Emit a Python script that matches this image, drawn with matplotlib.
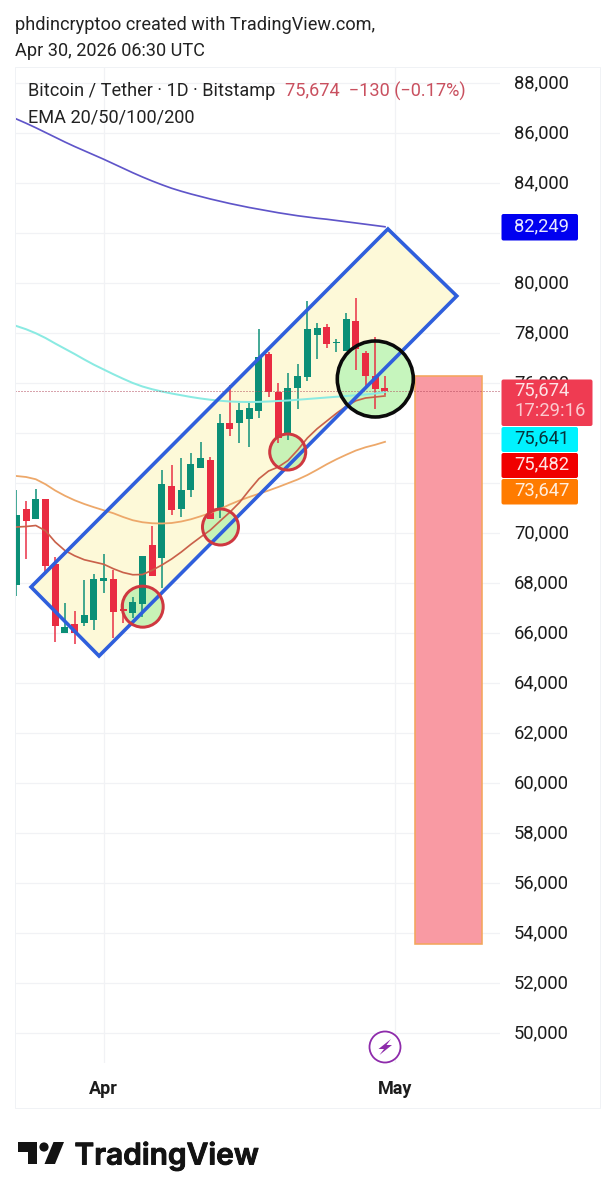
import numpy as np
import matplotlib
matplotlib.use("Agg")
import matplotlib.pyplot as plt
import matplotlib.patheffects as pe
from matplotlib.patches import Ellipse, Polygon, Rectangle, Circle, FancyBboxPatch
from matplotlib.transforms import ScaledTranslation

plt.rcParams['font.family'] = ['Roboto', 'DejaVu Sans']

# candles, days counted from Apr 1
days = list(range(-9, 30))
opens = [67933, 70947, 70547, 71373, 68773, 66013, 66373, 66387, 66520, 68093,
         68160, 66950, 66800, 67160, 69520, 68987, 71880, 70960, 71733, 72613,
         72920, 70920, 74387, 74413, 74560, 74893, 77173, 75640, 73960, 75800,
         76253, 77933, 78227, 77587, 77293, 78493, 77187, 76293, 75804]
highs = [71720, 71293, 71760, 71373, 69053, 67187, 66880, 68120, 68360, 69160,
         68520, 67300, 67453, 69093, 70280, 72520, 72720, 73013, 73187, 73653,
         73053, 74760, 75920, 75213, 75293, 78147, 77253, 76013, 76413, 76760,
         79293, 78413, 78360, 77747, 78813, 79387, 77293, 77827, 76293]
lows = [67493, 68947, 70547, 68387, 65653, 66013, 65547, 66280, 66120, 67587,
        65813, 66413, 66587, 66653, 68293, 67813, 70733, 70653, 71427, 72613,
        70547, 70587, 73880, 73587, 73453, 74613, 75427, 73587, 73720, 74947,
        76093, 76973, 77387, 77253, 77293, 76520, 75880, 74947, 75520]
closes = [70733, 70493, 71347, 68693, 66280, 66253, 65987, 66720, 68173, 68187,
          66840, 66893, 67227, 69093, 68293, 71960, 70920, 71720, 72760, 73013,
          70547, 74387, 74147, 74920, 75013, 77027, 75640, 73787, 75787, 76280,
          78147, 78213, 77573, 77613, 78573, 77347, 76280, 75747, 75674]

ema20 = [70240, 70260, 70300, 70090, 69640, 69300, 69090, 68930, 68840, 68750,
         68570, 68420, 68330, 68340, 68510, 68720, 68960, 69240, 69550, 69840,
         70120, 70480, 70830, 71220, 71710, 72170, 72480, 72640, 72900, 73320,
         73800, 74170, 74480, 74790, 75070, 75290, 75400, 75440, 75482]
ema50 = [72280, 72240, 72150, 71950, 71700, 71490, 71310, 71160, 71030, 70910,
         70790, 70640, 70510, 70430, 70390, 70380, 70400, 70460, 70550, 70670,
         70800, 70960, 71140, 71300, 71440, 71570, 71700, 71840, 71990, 72140,
         72320, 72530, 72750, 72950, 73130, 73300, 73430, 73530, 73647]
ema100 = [78280, 78150, 77990, 77800, 77580, 77370, 77160, 76940, 76730, 76540,
          76350, 76170, 76000, 75860, 75750, 75660, 75580, 75510, 75440, 75380,
          75330, 75290, 75260, 75245, 75240, 75245, 75260, 75280, 75300, 75330,
          75360, 75390, 75420, 75450, 75480, 75510, 75540, 75580, 75641]
ema200 = [86560, 86390, 86210, 86020, 85830, 85640, 85460, 85290, 85120, 84950,
          84770, 84590, 84410, 84240, 84080, 83930, 83790, 83670, 83560, 83460,
          83360, 83270, 83180, 83100, 83020, 82950, 82880, 82810, 82750, 82690,
          82640, 82590, 82550, 82500, 82450, 82400, 82350, 82300, 82249]

price_ticks = list(range(50000, 90000, 2000))
hidden_ticks = [72000, 74000, 82000]  # sit fully behind the price boxes
month_days = [0, 30]
month_labels = ['Apr', 'May']

channel_days = [-7.49, -0.48, 36.4, 29.3]
channel_prices = [67840, 65080, 79480, 82160]
target_days = [32.1, 39.0]
target_prices = [53560, 76280]
red_circle_days = [4.02, 12.04, 18.97]
red_circle_prices = [67053, 70240, 73240]
red_circle_radii = [20.5, 18, 18]
black_circle = (28.0, 76160, 38)

last_labels = ['82,249', '75,641', '75,482', '73,647']
last_price = '75,674'
countdown = '17:29:16'

UP = '#0b8f77'
DOWN = '#e92c42'
PX_PER_DAY = 9.7
PX_PER_PRICE = 0.025
W, H = 616, 1200


def px(v):
    return v * 0.72


fig = plt.figure(figsize=(W / 100, H / 100), dpi=100, facecolor='white')
ax = fig.add_axes([15 / W, 1 - 1063 / H, 485 / W, 996 / H])
ax.set_xlim(-9.144, 40.856)
ax.set_ylim(48800, 88640)
for s in ax.spines.values():
    s.set_visible(False)
ax.yaxis.tick_right()
ax.set_yticks(price_ticks)
ax.set_yticklabels(['' if p in hidden_ticks else f'{p:,}' for p in price_ticks],
                   fontsize=13.2, color='#1c1c1c')
ax.set_xticks(month_days)
ax.set_xticklabels(month_labels, fontsize=13, fontweight='bold', color='#1c1c1c')
ax.tick_params(axis='y', length=0, pad=10)
ax.tick_params(axis='x', length=0, pad=12)
ax.grid(True, color='#f1f2f5', lw=0.9)
ax.set_axisbelow(True)
# labels sit about 2 px higher than the grid line centre
for lab in ax.get_yticklabels():
    lab.set_transform(lab.get_transform() + ScaledTranslation(0, 2 / 100, fig.dpi_scale_trans))

ax.add_patch(Polygon(np.column_stack([channel_days, channel_prices]), closed=True,
                     fc='#fdf9d8', ec='none', zorder=1))
for d, p, r in zip(red_circle_days, red_circle_prices, red_circle_radii):
    ax.add_patch(Ellipse((d, p), 2 * r / PX_PER_DAY, 2 * r / PX_PER_PRICE,
                         fc='#c8f2b6', ec='none', zorder=1.5))
ax.add_patch(Ellipse(black_circle[:2], 2 * black_circle[2] / PX_PER_DAY,
                     2 * black_circle[2] / PX_PER_PRICE,
                     fc='#c6f5bd', ec='none', zorder=1.5))
ax.add_patch(Rectangle((target_days[0], target_prices[0]), target_days[1] - target_days[0],
                       target_prices[1] - target_prices[0],
                       fc='#f99aa3', ec='#f3a65c', lw=px(1.6), zorder=1.5))

for d, o, h, l, c in zip(days, opens, highs, lows, closes):
    col = UP if c >= o else DOWN
    ax.plot([d, d], [l, h], color=col, lw=px(1.5), zorder=3, solid_capstyle='butt')
    ax.bar(d, max(abs(c - o), 60), bottom=min(o, c), width=7 / PX_PER_DAY, color=col, zorder=3.2)

ax.plot(days, ema200, color='#5f55c9', lw=px(1.7), zorder=4)
ax.plot(days, ema100, color='#8aeae2', lw=px(2), zorder=4)
ax.plot(days, ema50, color='#eda86a', lw=px(1.8), zorder=4)
ax.plot(days, ema20, color='#c9614a', lw=px(1.7), zorder=4)
ax.axhline(closes[-1], color='#b34a5c', lw=px(1), ls=(0, (1, 2)), zorder=4)

ax.add_patch(Polygon(np.column_stack([channel_days, channel_prices]), closed=True,
                     fc='none', ec='#2f5fdc', lw=px(3.6), zorder=5, joinstyle='miter'))
for d, p, r in zip(red_circle_days, red_circle_prices, red_circle_radii):
    ax.add_patch(Ellipse((d, p), 2 * r / PX_PER_DAY, 2 * r / PX_PER_PRICE,
                         fc='none', ec='#cf3840', lw=px(3), zorder=6))
ax.add_patch(Ellipse(black_circle[:2], 2 * black_circle[2] / PX_PER_DAY,
                     2 * black_circle[2] / PX_PER_PRICE,
                     fc='none', ec='#0a0a0a', lw=px(3.6), zorder=6))

# overlay in pixels for the header, price boxes and logo
ov = fig.add_axes([0, 0, 1, 1], facecolor='none')
ov.set_xlim(0, W)
ov.set_ylim(H, 0)
ov.axis('off')

ov.add_patch(Rectangle((15, 67), 585, 1041, fc='none', ec='#f0f2f5', lw=px(1)))

ov.text(15, 25.5, 'phdincryptoo created with TradingView.com,', fontsize=13.1, color='#222222', va='center')
ov.text(15, 50.5, 'Apr 30, 2026 06:30 UTC', fontsize=13.1, color='#222222', va='center')
ov.text(28, 91.5, 'Bitcoin / Tether · 1D · Bitstamp', fontsize=13.1, color='#222222', va='center')
ov.text(285, 91.5, '75,674  −130 (−0.17%)', fontsize=13.1, color='#c9505f', va='center')
ov.text(28, 117, 'EMA 20/50/100/200', fontsize=13.1, color='#222222', va='center')


def price_box(y0, y1, x1, col, txt, txtcol):
    ov.add_patch(FancyBboxPatch((501.5, y0), x1 - 501.5, y1 - y0, boxstyle='round,pad=0,rounding_size=2',
                                fc=col, ec='none'))
    ov.text(514, (y0 + y1) / 2 - 1, txt, fontsize=13.2, color=txtcol, va='center')


price_box(214, 240.5, 578, '#0000f0', last_labels[0], '#e8e8ff')
price_box(427, 452, 578, '#00f2ff', last_labels[1], '#06343c')
price_box(453, 478, 578, '#f00000', last_labels[2], '#ffe4e4')
price_box(479, 504.5, 578, '#ff7b00', last_labels[3], '#ffeedd')
ov.add_patch(FancyBboxPatch((501.5, 379.5), 91, 46.5, boxstyle='round,pad=0,rounding_size=2',
                            fc='#ef3b52', ec='none'))
ov.text(514, 390.5, last_price, fontsize=13.2, color='#fde3e6', va='center')
ov.text(514, 411, countdown, fontsize=13.2, color='#fbc9cf', va='center')

# lightning mark
ov.add_patch(Circle((385, 1047), 15.5, fc='white', ec='#8e2bab', lw=px(1.8)))
ov.add_patch(Polygon([(391, 1039), (378.5, 1049), (384, 1049), (379.5, 1055), (392, 1045), (386.5, 1045)],
                     closed=True, fc='#8e2bab', ec='none'))

# TradingView logo
ov.add_patch(Polygon([(18, 1142), (37, 1142), (37, 1164), (28, 1164), (28, 1152), (18, 1152)],
                     closed=True, fc='#131313', ec='none'))
ov.add_patch(Circle((44, 1147), 4.6, fc='#131313', ec='none'))
ov.add_patch(Polygon([(53.5, 1142), (64, 1142), (55, 1164), (44.5, 1164)],
                     closed=True, fc='#131313', ec='none'))
ov.text(74.5, 1164.5, 'TradingView', fontsize=21.5, family='Inter', fontweight='semibold',
        color='#131313', va='baseline',
        path_effects=[pe.withStroke(linewidth=0.7, foreground='#131313')])

fig.savefig('out.png', dpi=100)
